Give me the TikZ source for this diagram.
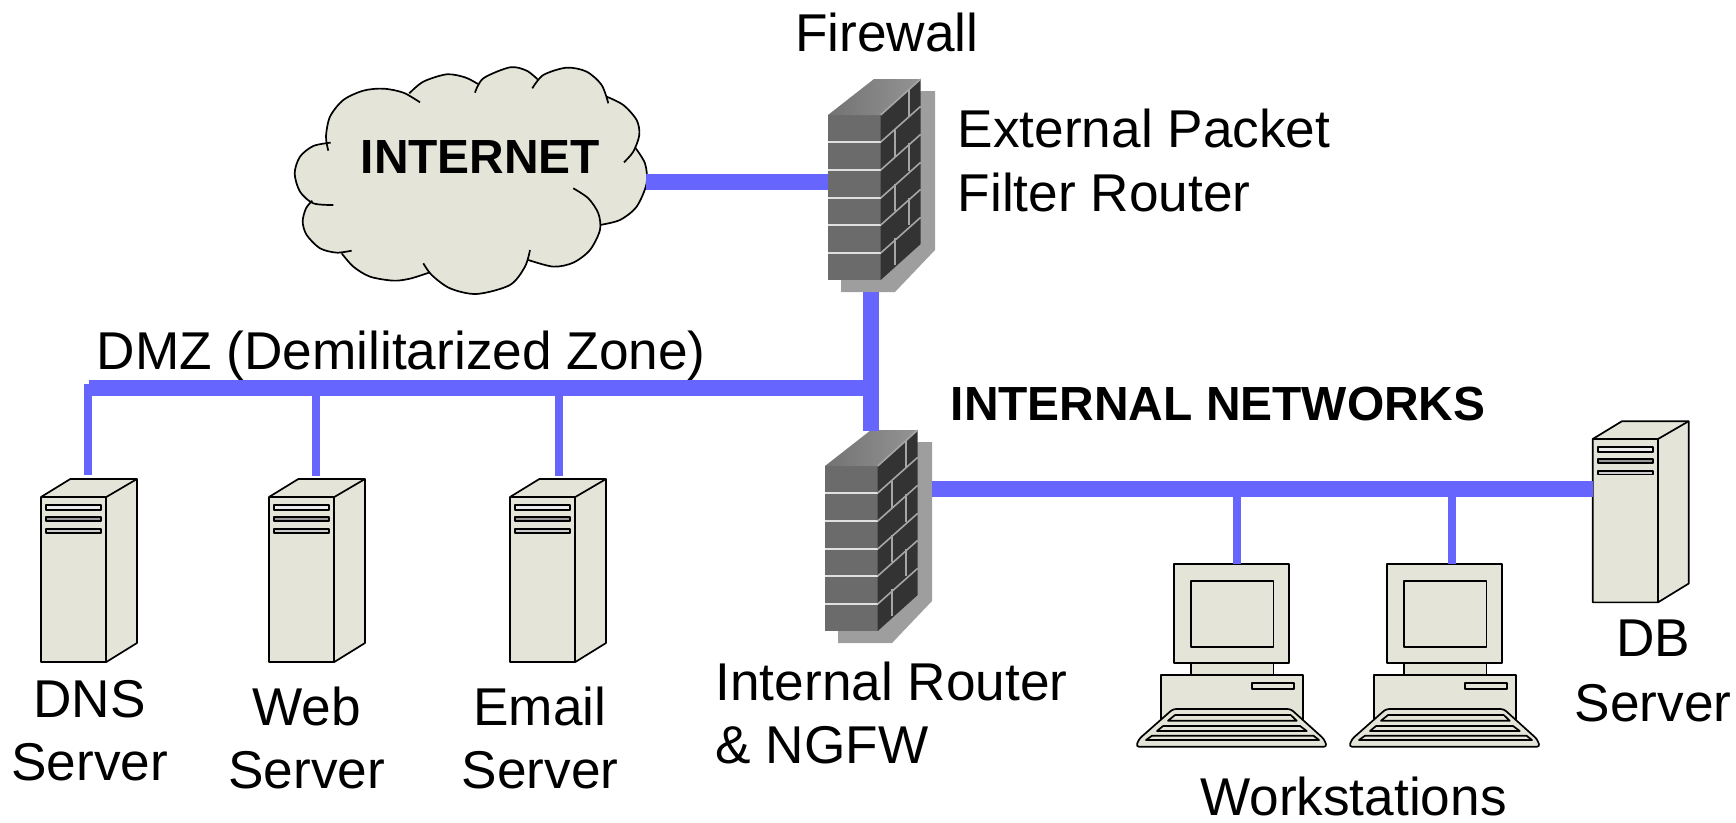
\documentclass[tikz,border=0pt]{standalone}
\usepackage{fontspec}
\setmainfont{Liberation Sans}
\definecolor{beige}{HTML}{E4E5D8}
\definecolor{netblue}{HTML}{6666FF}
\newcommand{\cloudlobes}[1]{%
  \path[#1] plot[smooth] coordinates {(145,332) (138,290) (150,230) (190,180) (250,152) (310,146) (370,158) (420,187)};
  \path[#1] plot[smooth] coordinates {(388,160) (430,125) (500,103) (555,112) (594,132)};
  \path[#1] plot[smooth] coordinates {(585,158) (610,115) (690,82) (740,92) (775,120)};
  \path[#1] plot[smooth] coordinates {(757,145) (790,105) (860,83) (920,95) (965,135) (985,190)};
  \path[#1] plot[smooth] coordinates {(980,170) (1030,195) (1070,240) (1078,285) (1060,335) (1032,367)};
  \path[#1] plot[smooth] coordinates {(1065,322) (1095,370) (1100,430) (1070,500) (1020,540) (960,555)};
  \path[#1] plot[smooth] coordinates {(880,445) (925,475) (955,520) (960,570) (930,630) (880,668) (820,680) (745,660)};
  \path[#1] plot[smooth] coordinates {(750,630) (735,680) (690,735) (590,762) (510,745) (455,705) (430,670)};
  \path[#1] plot[smooth] coordinates {(447,698) (390,716) (340,722) (270,710) (220,680) (185,640)};
  \path[#1] plot[smooth] coordinates {(215,632) (170,638) (120,625) (80,585) (68,545) (78,505) (97,482)};
  \path[#1] plot[smooth] coordinates {(160,495) (100,490) (60,455) (44,400) (60,350) (100,318) (152,308)};
}
\tikzset{
  x=1pt,y=-1pt,
  outline/.style={draw=black,line width=1.7pt,line join=round},
  body/.style={outline,fill=beige},
  label/.style={inner sep=0pt,font=\fontsize{53.2}{63}\selectfont},
  boldlabel/.style={inner sep=0pt,font=\fontsize{47.9}{57}\selectfont\bfseries},
  bus/.style={draw=netblue,line width=16pt},
  drop/.style={draw=netblue,line width=8pt},
  mortarfront/.style={draw=white!88!black,line width=1.6pt},
  mortarside/.style={draw=black!35,line width=1.6pt},
  firewall/.pic={
    \fill[black!38] (92.7,-24) -- (107,-24) -- (107,135) -- (67,177) -- (13,177) -- (13,165) -- cycle;
    \fill[black!58] (0,0) rectangle (52.7,165);
    \shade[left color=black!55,right color=black!42] (0,0) -- (46,-36) -- (92.7,-36) -- (52.7,0) -- cycle;
    \fill[black!80] (52.7,0) -- (92.7,-36) -- (92.7,129) -- (52.7,165) -- cycle;
    \foreach \y in {27,55,83,110,138}{
      \draw[mortarfront] (0,\y) -- (52.7,\y);
      \draw[mortarside] (52.7,\y) -- (92.7,\y-35.7);
    }
    \draw[mortarside] (52.7,0) -- (92.7,-36);
    \draw[mortarside] (81,-25.7) -- (81,2);
    \draw[mortarside] (67,14.7) -- (67,42.3);
    \draw[mortarside] (81,28) -- (81,55.7);
    \draw[mortarside] (67,69) -- (67,96);
    \draw[mortarside] (81,83) -- (81,110.3);
    \draw[mortarside] (67,123) -- (67,150);
    \coordinate (-west) at (0,67);
    \coordinate (-top) at (43,-36);
    \coordinate (-bottom) at (43,177);
    \coordinate (-east) at (107,0);
  },
  server/.pic={
    \draw[body] (0,0) -- (29.3,-18) -- (96,-18) -- (96,146) -- (65.3,165) -- (0,165) -- cycle;
    \draw[outline] (0,0) -- (65.3,0) -- (96,-18);
    \draw[outline] (65.3,0) -- (65.3,165);
    \draw[outline,fill=black!8] (5,8) rectangle (60,13);
    \draw[outline,fill=black!40] (5,20) rectangle (60,24);
    \draw[outline,fill=black!20] (5,32) rectangle (60,36);
    \coordinate (-top) at (47.6,-18);
    \coordinate (-west) at (0,0);
  },
  workstation/.pic={
    \draw[body] (-13.3,111) rectangle (128.7,160);
    \draw[body] (0,0) rectangle (115.3,98.7);
    \draw[body] (16.7,16.7) rectangle (99.5,82.7);
    \draw[body] (16.7,98.7) rectangle (99.5,111);
    \draw[body] (78,119) rectangle (120,125);
    \draw[body,rounded corners=3pt] (-1,145) -- (116.7,145) -- (150,175) -- (153,182.7) -- (-38,182.7) -- (-35,175) -- cycle;
    \draw[outline,fill=beige] (1,151) -- (116.7,151) -- (122.7,156.7) -- (-6,156.7) -- cycle;
    \draw[outline,fill=beige] (-11,162) -- (126,162) -- (132.7,167) -- (-17,167) -- cycle;
    \draw[outline,fill=beige] (-22,171.7) -- (139.5,171.7) -- (145,176) -- (-28,176) -- cycle;
    \coordinate (-top) at (63,0);
  }
}
\begin{document}
\begin{tikzpicture}
\useasboundingbox (0,0) rectangle (1736,822);

% cloud
\begin{scope}[shift={(280,40)},x=0.3333pt,y=-0.3333pt]
  \fill[beige] plot coordinates {(145,320) (310,146) (388,160) (500,103) (594,132) (690,82) (775,120) (860,83) (980,170) (1078,285) (1065,322) (1100,430) (960,555) (960,570) (820,680) (745,660) (590,762) (447,698) (340,722) (185,640) (120,625) (68,545) (97,482) (44,400)} -- cycle;
  \cloudlobes{fill=beige}
  \cloudlobes{draw=black,line width=1.7pt}
\end{scope}
\coordinate (cloudE) at (646,182);
\node[boldlabel,anchor=base west] (inet) at (360.5,173.5) {INTERNET};

% junctions
\coordinate (dmzW) at (89,388);
\coordinate (dnsJ) at (88.3,384);
\coordinate (webJ) at (315.6,388);
\coordinate (mailJ) at (559,388);
\coordinate (wsJa) at (1237,489);
\coordinate (wsJb) at (1451.6,489);

% devices placed
\pic (fwa) at (828,115) {firewall};
\pic (fwb) at (825,466) {firewall};
\pic (dns) at (41,497) {server};
\pic (web) at (269,497) {server};
\pic (mail) at (510,497) {server};
\pic[yscale=.99] (db) at (1592.7,439) {server};
\pic (wsa) at (1174,564) {workstation};
\pic (wsb) at (1387,564) {workstation};

% connectors
\draw[bus] (cloudE) -- (cloudE -| fwa-west);
\draw[bus] (870.7,292) -- (870.7,431);
\draw[bus] (dmzW) -- (870.7,388);
\draw[bus] (931.7,489) -- (db-west |- wsJa);
\draw[drop] (dnsJ) -- (88.3,475);
\draw[drop] (webJ) -- (315.6,476);
\draw[drop] (mailJ) -- (559,476);
\draw[drop] (wsJa) -- (wsa-top -| wsJa);
\draw[drop] (wsJb) -- (wsb-top -| wsJb);

% labels
\node[label,anchor=base west] (l1) at (795,51) {Firewall};
\node[label,anchor=base west] (l2) at (957.6,147) {External Packet};
\node[label,anchor=base west] (l3) at (957.6,211.5) {Filter Router};
\node[label,anchor=base west] (l4) at (96.5,369) {DMZ (Demilitarized Zone)};
\node[boldlabel,anchor=base west] (l5) at (950.5,420) {INTERNAL NETWORKS};
\node[label,align=center] (l6) at (89.7,731) {DNS\\Server};
\node[label,align=center] (l7) at (306.7,738) {Web\\Server};
\node[label,align=center] (l8) at (540,737.5) {Email\\Server};
\node[label,align=left] (l9) at (891.5,713) {Internal Router\\\& NGFW};
\node[label,align=center] (l10) at (1653,671) {DB\\[2.5pt]Server};
\node[label,anchor=base west] (l11) at (1200,815.5) {Workstations};
\end{tikzpicture}
\end{document}
